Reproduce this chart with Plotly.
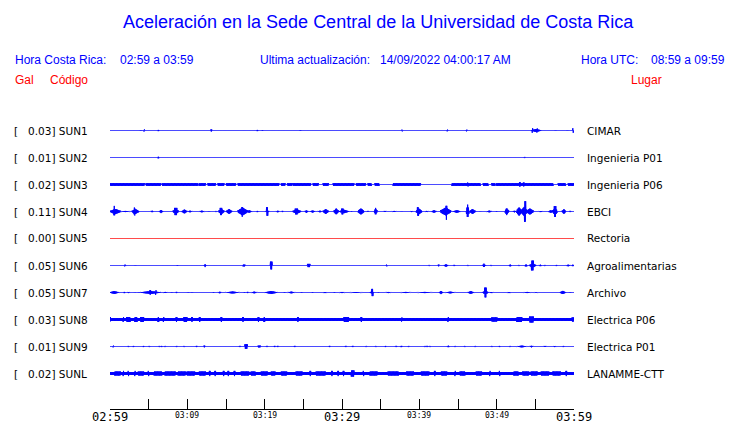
import numpy as np
import plotly.graph_objects as go

# ---------------- data ----------------
stations = ["SUN1", "SUN2", "SUN3", "SUN4", "SUN5", "SUN6", "SUN7", "SUN8", "SUN9", "SUNL"]
peak_gal = ["0.03", "0.01", "0.02", "0.11", "0.00", "0.05", "0.05", "0.03", "0.01", "0.02"]
places = ["CIMAR", "Ingenieria P01", "Ingenieria P06", "EBCI", "Rectoria",
          "Agroalimentarias", "Archivo", "Electrica P06", "Electrica P01", "LANAMME-CTT"]
tick_labels = ["02:59", "03:09", "03:19", "03:29", "03:39", "03:49", "03:59"]
minutes_span = 60

# background noise half-amplitude (display units) of each record
base_amp = [0, 0, 0, 0, 0, 0, 0, 1.9, 0, 1.9]
# whether bursts of the record are spindle-shaped (True) or flat bands (False)
spindle = [True, True, False, True, False, True, True, False, True, False]

# bursts: (start minute, end minute, half-amplitude)
sun1 = [(4.0, 4.0, 0.8), (4.4, 4.4, 1.5), (6.25, 6.25, 1.0), (13.1, 13.1, 1.5), (19.05, 19.05, 1.0),
        (19.7, 19.7, 0.8), (24.6, 24.6, 0.8), (37.8, 37.8, 1.3), (43.6, 43.6, 1.3), (46.1, 46.1, 1.3),
        (54.5, 55.7, 1.9), (54.6, 54.6, 2.7), (55.2, 55.2, 2.5), (57.6, 57.6, 0.8), (59.1, 59.1, 0.8),
        (59.9, 59.9, 2.7)]
sun2 = [(6.25, 6.25, 1.2), (53.6, 53.6, 1.0)]
sun3 = [(0, 4.4, 1.7), (4.7, 6.5, 1.7), (6.8, 11.3, 1.7), (11.55, 12.3, 1.7), (12.7, 13.6, 1.7),
        (14.0, 14.7, 1.7), (15.1, 16.2, 1.7), (16.6, 21.8, 1.7), (22.2, 22.6, 1.7), (22.97, 23.5, 1.7),
        (23.7, 25.9, 1.7), (26.3, 26.9, 1.7), (27.6, 28.2, 1.7), (28.9, 31.5, 1.7), (31.9, 33.0, 1.7),
        (33.4, 33.8, 1.7), (34.3, 34.8, 1.7), (36.6, 40.1, 1.7), (44.2, 47.85, 1.7), (46.3, 46.3, 2.4),
        (48.3, 48.9, 1.7), (49.4, 49.8, 1.7), (50.0, 57.3, 1.7), (53.0, 53.0, 2.7), (53.5, 53.5, 2.4),
        (58.0, 58.9, 1.7), (59.3, 60, 1.7)]
sun4 = [(0.1, 1.3, 3.0), (0.45, 0.65, 6.0), (1.3, 2.7, 1.0), (2.9, 3.66, 3.0), (3.05, 3.3, 5.0),
        (5.3, 5.6, 1.3), (6.4, 6.8, 2.0), (8.2, 8.8, 3.3), (8.4, 8.6, 4.0), (9.35, 9.9, 2.5),
        (10.1, 10.6, 1.3), (11.55, 12.2, 1.3), (12.8, 12.8, 0.8), (13.6, 13.8, 1.0), (14.1, 14.7, 3.3),
        (14.3, 14.4, 4.0), (15.1, 15.7, 2.9), (16.6, 17.7, 4.3), (16.9, 17.3, 5.7), (17.7, 18.3, 1.7),
        (19.05, 19.05, 1.0), (20.1, 20.6, 1.5), (20.3, 20.35, 4.7), (21.5, 21.9, 1.3), (22.3, 22.3, 1.0),
        (23.7, 24.6, 2.8), (24.0, 24.2, 3.3), (25.2, 25.6, 1.7), (25.9, 26.5, 1.5), (26.9, 27.4, 1.3),
        (27.6, 28.2, 2.9), (29.0, 29.5, 3.5), (29.7, 30.8, 2.2), (30.0, 30.1, 3.3), (31.25, 31.25, 0.8),
        (32.1, 32.8, 3.5), (33.2, 33.5, 1.0), (34.2, 34.5, 4.0), (35.3, 35.8, 1.0), (36.4, 37.1, 1.0),
        (37.7, 37.7, 0.8), (38.8, 39.2, 1.0), (39.6, 40.3, 3.3), (39.8, 39.9, 4.7), (40.7, 41.2, 1.0),
        (41.6, 42.2, 1.7), (42.8, 44.0, 4.3), (43.4, 43.6, 8.7), (44.4, 45.3, 1.7), (46.1, 46.4, 7.3),
        (46.55, 47.2, 2.9), (47.9, 47.9, 0.8), (48.7, 49.4, 1.3), (50.0, 50.0, 0.8), (51.1, 51.5, 4.0),
        (52.1, 52.5, 1.3), (52.6, 53.2, 4.7), (53.2, 53.9, 5.0), (53.6, 53.7, 10.7), (53.9, 54.7, 3.5),
        (55.4, 56.0, 1.0), (56.7, 57.3, 1.7), (57.3, 57.8, 4.5), (57.5, 57.6, 5.8), (58.5, 58.9, 2.9),
        (59.5, 59.5, 1.0)]
sun5 = []
sun6 = [(1.8, 2.1, 1.0), (1.94, 1.94, 1.3), (3.3, 3.3, 0.8), (8.7, 8.7, 0.8), (12.2, 12.4, 2.0),
        (17.25, 17.4, 1.3), (20.8, 20.9, 4.3), (25.6, 25.8, 2.0), (35.8, 35.8, 1.3), (41.3, 41.3, 1.0),
        (42.5, 42.5, 1.3), (43.2, 43.7, 1.7), (44.5, 44.5, 1.0), (46.3, 46.3, 1.0), (48.2, 48.5, 2.3),
        (49.3, 49.3, 1.0), (51.6, 51.9, 1.5), (52.9, 52.9, 1.0), (53.7, 53.9, 1.3), (54.3, 55.0, 2.7),
        (54.55, 54.7, 5.3), (55.5, 55.8, 1.3), (56.2, 56.2, 1.0), (57.7, 57.7, 1.0), (59.0, 59.5, 1.3),
        (59.7, 60.0, 1.3)]
sun7 = [(0, 1.1, 1.8), (1.85, 1.85, 1.0), (2.2, 2.6, 1.0), (3.2, 3.2, 0.8), (3.75, 3.75, 0.8),
        (4.0, 6.5, 1.8), (5.2, 5.2, 2.7), (5.9, 5.9, 2.7), (6.8, 7.5, 1.0), (8.0, 8.0, 0.8),
        (8.6, 8.6, 1.0), (10.1, 10.1, 0.8), (10.6, 10.6, 0.8), (13.4, 13.4, 0.8), (14.0, 14.4, 1.3),
        (15.0, 16.7, 1.4), (17.4, 17.4, 0.8), (17.8, 17.8, 1.0), (18.3, 19.0, 1.3), (20.1, 21.6, 1.8),
        (22.6, 22.6, 0.8), (23.0, 23.9, 1.3), (24.8, 24.8, 0.8), (26.2, 26.2, 0.8), (27.5, 28.1, 1.0),
        (29.0, 29.0, 0.8), (29.6, 30.4, 1.0), (30.8, 32.8, 0.9), (33.6, 34.1, 1.5), (33.85, 33.95, 4.0),
        (34.7, 34.7, 0.8), (35.6, 36.4, 1.0), (37.5, 39.0, 1.0), (39.6, 41.8, 1.0), (42.6, 43.0, 2.0),
        (43.4, 44.6, 1.3), (46.3, 47.0, 1.8), (48.2, 48.9, 2.2), (48.5, 48.6, 5.3), (49.0, 49.6, 1.0),
        (51.3, 51.9, 1.0), (53.4, 54.5, 1.0), (54.7, 55.5, 0.8), (58.2, 58.9, 2.0), (59.5, 59.5, 0.8)]
sun8 = [(0, 0, 2.9), (1.72, 1.72, 2.9), (2.16, 2.59, 2.9), (3.23, 3.45, 2.9), (4.0, 4.3, 2.9),
        (6.25, 6.25, 2.9), (6.9, 6.9, 2.9), (8.6, 8.6, 2.9), (9.6, 9.9, 2.9), (10.6, 10.6, 2.9),
        (11.6, 11.6, 2.9), (14.4, 14.4, 2.9), (17.2, 17.2, 2.9), (19.2, 19.2, 2.9), (19.95, 19.95, 2.9),
        (24.3, 24.3, 2.9), (30.3, 30.8, 2.9), (32.5, 32.5, 2.9), (37.7, 37.7, 2.5), (43.7, 43.7, 2.9),
        (49.4, 50.0, 2.5), (52.6, 53.2, 2.9), (54.3, 54.7, 3.4), (59.8, 60, 2.5)]
sun9 = [(0.43, 0.43, 1.3), (2.37, 2.37, 1.0), (3.02, 3.02, 1.0), (4.31, 4.31, 1.0), (5.09, 5.09, 1.0),
        (6.38, 6.38, 1.0), (6.68, 6.68, 1.0), (7.11, 7.11, 1.0), (8.62, 8.62, 1.0), (9.57, 9.57, 1.0),
        (11.2, 11.2, 1.0), (12.2, 12.2, 1.3), (16.8, 16.8, 1.0), (17.5, 17.7, 2.7), (19.2, 19.4, 1.3),
        (20.3, 20.3, 1.0), (21.3, 21.3, 1.0), (21.7, 21.7, 1.0), (23.9, 23.9, 1.0), (28.4, 28.4, 1.0),
        (30.5, 30.5, 1.0), (31.4, 31.4, 1.0), (33.1, 33.1, 1.0), (34.4, 34.4, 1.0), (35.6, 35.6, 1.0),
        (37.0, 37.0, 1.0), (37.6, 37.7, 1.0), (38.6, 38.6, 1.0), (40.7, 40.7, 1.0), (41.0, 41.0, 1.0),
        (41.4, 41.4, 1.0), (43.6, 43.9, 1.3), (44.6, 44.6, 1.0), (45.9, 45.9, 1.0), (47.2, 47.2, 1.0),
        (49.4, 49.4, 1.0), (50.4, 50.4, 1.0), (51.7, 51.7, 1.0), (52.6, 53.9, 1.3), (54.3, 54.7, 1.3),
        (56.0, 56.5, 1.0), (57.3, 57.7, 1.0), (58.6, 58.6, 1.0)]
sunl = [(0.65, 1.3, 2.4), (1.72, 1.72, 3.0), (2.37, 2.37, 3.0), (3.23, 3.23, 3.0), (3.66, 4.31, 2.4),
        (4.96, 4.96, 3.0), (5.73, 6.68, 2.4), (7.11, 8.41, 2.4), (8.84, 9.7, 2.4), (10.0, 10.9, 2.4),
        (11.6, 12.3, 2.4), (12.9, 12.9, 3.0), (13.6, 13.6, 3.0), (14.7, 14.7, 3.0), (15.3, 15.3, 3.0),
        (16.1, 16.1, 3.0), (17.0, 17.9, 2.4), (18.3, 18.75, 2.4), (19.6, 20.3, 2.4), (20.9, 21.3, 2.4),
        (22.2, 22.8, 2.4), (24.1, 24.8, 2.4), (25.9, 25.9, 3.0), (26.7, 27.8, 2.4), (28.7, 28.7, 3.0),
        (29.5, 29.5, 3.0), (30.2, 30.2, 3.0), (31.25, 31.5, 3.5), (32.8, 32.8, 3.0), (33.6, 34.5, 2.4),
        (36.0, 37.3, 2.4), (38.4, 39.2, 2.4), (40.3, 41.2, 2.4), (42.0, 42.0, 3.0), (42.9, 43.5, 2.4),
        (44.6, 44.6, 3.0), (45.3, 45.9, 2.4), (47.4, 48.0, 2.4), (49.1, 49.1, 3.0), (50.4, 50.4, 3.0),
        (52.2, 52.8, 2.4), (53.4, 54.1, 2.4), (54.5, 55.2, 2.4), (55.8, 56.7, 2.4), (57.3, 58.2, 2.4),
        (59.0, 59.0, 3.0)]
bursts = [sun1, sun2, sun3, sun4, sun5, sun6, sun7, sun8, sun9, sunl]
trace_colors = ["#0000FF"] * 10
trace_colors[4] = "#FF0000"

# ---------------- figure ----------------
# the page body has an 8px margin, so the figure is drawn 8px smaller and everything shifted by 8px
OFF = 8
W, H = 740 - OFF, 423 - OFF
ML, MT = 110 - OFF, 100 - OFF
PW = 574 - 110
PH = 409 - 100
MR = W - ML - PW
MB = H - MT - PH
SPACING = 27.0            # display units between traces
FIRST = 30.5              # offset of first trace below plot top
top_val = -FIRST / SPACING
bot_val = top_val + PH / SPACING

dt = 0.05
t = np.round(np.arange(0, minutes_span + dt / 2, dt), 3)
sign = np.where(np.arange(t.size) % 2 == 0, 1.0, -1.0)

fig = go.Figure()
for i, name in enumerate(stations):
    env = np.full(t.size, float(base_amp[i]))
    for (t0, t1, a) in bursts[i]:
        m = (t >= t0 - 0.05) & (t <= t1 + 0.05)
        if spindle[i] and t1 - t0 >= 0.2:
            u = (t[m] - t0) / (t1 - t0)
            shape = 0.4 + 0.6 * (1 - np.clip(np.abs(2 * u - 1), 0, 1))
            env[m] = np.maximum(env[m], a * shape)
        else:
            env[m] = np.maximum(env[m], a)
    env = np.maximum(env - 0.4, 0)  # compensate for line width
    y = i + sign * env / SPACING
    fig.add_trace(go.Scatter(x=t, y=y, mode="lines",
                             line=dict(color=trace_colors[i], width=1, simplify=False),
                             hoverinfo="skip", showlegend=False))

def px_x(p):
    return (p - OFF - ML) / PW

def px_y(p):
    return (MT + PH - (p - OFF)) / PH

ann = []
def text(x, y, s, color, size, family="Liberation Sans, Arial, sans-serif", anchor="left"):
    ann.append(dict(xref="paper", yref="paper", x=px_x(x), y=px_y(y), text=s, showarrow=False,
                    xanchor=anchor, yanchor="middle", font=dict(color=color, size=size, family=family),
                    borderpad=0))

BLUE, RED = "#0000FF", "#FF0000"
text(378, 22, "Aceleración en la Sede Central de la Universidad de Costa Rica", BLUE, 18, anchor="center")
text(14, 60, "Hora Costa Rica:", BLUE, 12)
text(119, 60, "02:59 a 03:59", BLUE, 12)
text(259, 60, "Ultima actualización:", BLUE, 12)
text(379, 60, "14/09/2022 04:00:17 AM", BLUE, 12)
text(580, 60, "Hora UTC:", BLUE, 12)
text(650, 60, "08:59 a 09:59", BLUE, 12)
text(14, 80, "Gal", RED, 12)
text(49, 80, "Código", RED, 12)
text(630, 80, "Lugar", RED, 12)

DV = "DejaVu Sans, sans-serif"
for i, name in enumerate(stations):
    yc = 100 + FIRST + SPACING * i
    text(13, yc, "[", "black", 10.5, DV)
    text(26.5, yc, f"{peak_gal[i]}] {name}", "black", 10.5, DV)
    text(586, yc, places[i], "black", 10.5, DV)

for k, lab in enumerate(tick_labels):
    xm = k * 10
    big = (k % 3 == 0)
    ann.append(dict(xref="x", yref="paper", x=xm, y=0, yshift=-8 if big else -6, text=lab, showarrow=False,
                    xanchor="center", yanchor="middle",
                    font=dict(family="DejaVu Sans Mono, monospace", size=12 if big else 8, color="black")))

fig.update_layout(
    width=W, height=H, margin=dict(l=ML, r=MR, t=MT, b=MB),
    paper_bgcolor="white", plot_bgcolor="white",
    xaxis=dict(range=[0, minutes_span], showgrid=False, zeroline=False, showline=True, linecolor="black",
               linewidth=1, ticks="inside", ticklen=10, tickcolor="black", tickwidth=1,
               tickvals=list(range(0, minutes_span + 1, 5)), showticklabels=False, fixedrange=True),
    yaxis=dict(range=[bot_val, top_val], visible=False, fixedrange=True),
    annotations=ann,
    showlegend=False,
)
fig.write_html("out.html")
